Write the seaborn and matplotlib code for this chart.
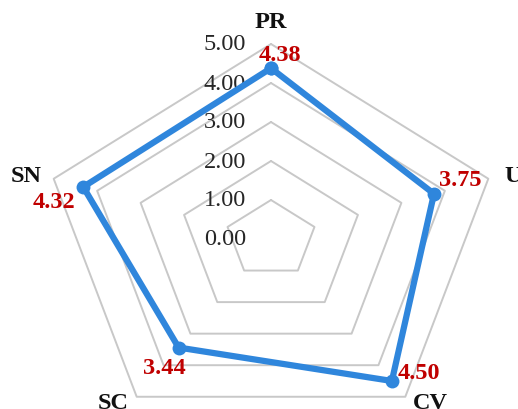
import numpy as np
import pandas as pd
import matplotlib
matplotlib.use("Agg")
import matplotlib.pyplot as plt
import seaborn as sns

categories = ["PR", "U", "CV", "SC", "SN"]
values = [4.38, 3.75, 4.50, 3.44, 4.32]
value_labels = ["4.38", "3.75", "4.50", "3.44", "4.32"]
ticks = [0, 1, 2, 3, 4, 5]
tick_labels = ["0.00", "1.00", "2.00", "3.00", "4.00", "5.00"]

sns.set_style("white")
plt.rcParams["font.family"] = ["Liberation Serif", "DejaVu Serif"]

fig = plt.figure(figsize=(5.18, 4.10), dpi=100)
ax = fig.add_axes([0, 0, 1, 1])

ang = np.deg2rad(90 - 72 * np.arange(len(categories)))
ca, sa = np.cos(ang), np.sin(ang)

# grid rings (ring 0 is just the centre)
for t in ticks[1:]:
    ring = pd.DataFrame({"x": np.append(t * ca, t * ca[0]),
                         "y": np.append(t * sa, t * sa[0])})
    sns.lineplot(data=ring, x="x", y="y", sort=False, estimator=None, ax=ax,
                 color="#c8c8c8", linewidth=1.4)

vals = np.array(values)
df = pd.DataFrame({"x": np.append(vals * ca, vals[0] * ca[0]),
                   "y": np.append(vals * sa, vals[0] * sa[0])})
sns.lineplot(data=df, x="x", y="y", sort=False, estimator=None, ax=ax,
             color="#2f86dc", linewidth=4.5, marker="o", markersize=10,
             markeredgewidth=0, zorder=5)

# radial tick labels
for t, lab in zip(ticks, tick_labels):
    ax.text(-0.55, t, lab, ha="right", va="center", fontsize=17.5, color="#262626")

# category labels
cat_off = [(0, 22, "center"), (16, 3, "left"), (25, -6, "center"),
           (-24, -6, "center"), (-12, 3, "right")]
for i, c in enumerate(categories):
    dx, dy, ha = cat_off[i]
    ax.annotate(c, (5 * ca[i], 5 * sa[i]), xytext=(dx, dy), textcoords="offset pixels",
                ha=ha, va="center", fontsize=17.5, fontweight="bold", color="#111111")

# value labels
val_off = [(9, 14), (26, 14), (27, 8), (-14, -20), (-29, -15)]
for i, lab in enumerate(value_labels):
    dx, dy = val_off[i]
    ax.annotate(lab, (vals[i] * ca[i], vals[i] * sa[i]), xytext=(dx, dy),
                textcoords="offset pixels", ha="center", va="center",
                fontsize=17.5, fontweight="bold", color="#c00000")

ax.set_xlim(-271 / 45.7, (518 - 271) / 45.7)
ax.set_ylim(-(410 - 240) / 39, 240 / 39)
ax.axis("off")

fig.savefig("out.png", dpi=100)
